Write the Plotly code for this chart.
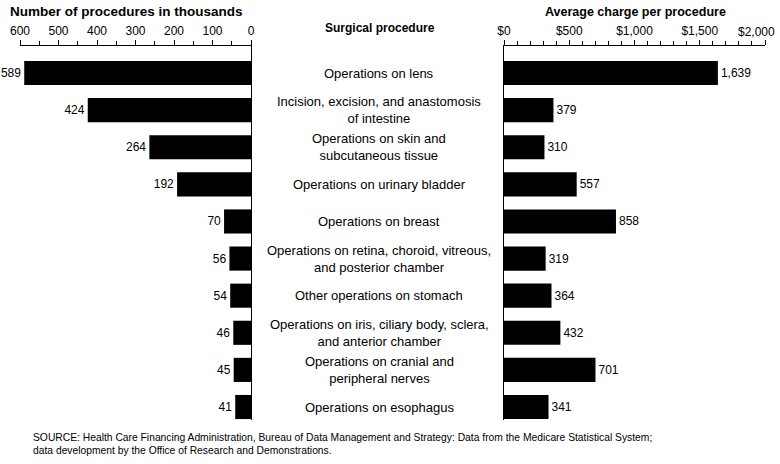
import plotly.graph_objects as go

procedures = [
    "Operations on lens",
    "Incision, excision, and anastomosis<br>of intestine",
    "Operations on skin and<br>subcutaneous tissue",
    "Operations on urinary bladder",
    "Operations on breast",
    "Operations on retina, choroid, vitreous,<br>and posterior chamber",
    "Other operations on stomach",
    "Operations on iris, ciliary body, sclera,<br>and anterior chamber",
    "Operations on cranial and<br>peripheral nerves",
    "Operations on esophagus",
]
counts_thousands = [589, 424, 264, 192, 70, 56, 54, 46, 45, 41]
avg_charge = [1639, 379, 310, 557, 858, 319, 364, 432, 701, 341]
count_ticks = [600, 500, 400, 300, 200, 100, 0]
charge_ticks = [0, 500, 1000, 1500, 2000]
charge_tick_labels = ["$0", "$500", "$1,000", "$1,500", "$2,000"]

FONT = "Liberation Sans, Arial, sans-serif"
W, H = 780, 464
rows = list(range(len(procedures)))

fig = go.Figure()
fig.add_trace(go.Bar(
    x=counts_thousands, y=rows, orientation="h", xaxis="x", yaxis="y",
    marker=dict(color="black", line=dict(width=0)), width=0.65,
    text=[str(v) for v in counts_thousands], textposition="outside",
    textfont=dict(family=FONT, size=12, color="black"), cliponaxis=False,
    hoverinfo="skip",
))
fig.add_trace(go.Bar(
    x=avg_charge, y=rows, orientation="h", xaxis="x2", yaxis="y2",
    marker=dict(color="black", line=dict(width=0)), width=0.65,
    text=[f"{v:,}" for v in avg_charge], textposition="outside",
    textfont=dict(family=FONT, size=12, color="black"), cliponaxis=False,
    hoverinfo="skip",
))

yrange = [9.35, -0.728]
ydom = [1 - 420 / H, 1 - 46 / H]

# last tick label is placed as an annotation so it stays inside the page edge
shown_charge_labels = charge_tick_labels[:-1] + [""]

fig.update_layout(
    width=W, height=H, margin=dict(l=0, r=0, t=0, b=0, autoexpand=False),
    paper_bgcolor="white", plot_bgcolor="white", showlegend=False,
    font=dict(family=FONT, color="black"),
    xaxis=dict(domain=[20 / W, 251 / W], range=[600, 0], side="top", anchor="y",
               tickvals=count_ticks, ticks="outside", ticklen=5, tickcolor="black",
               showline=True, linecolor="black", linewidth=1.2, showgrid=False,
               zeroline=False, tickfont=dict(size=12, family=FONT), automargin=False,
               ticklabeloverflow="allow",
               minor=dict(dtick=50, ticks="outside", ticklen=4, tickcolor="black")),
    yaxis=dict(domain=ydom, range=yrange, anchor="x", side="right", automargin=False,
               showline=True, linecolor="black", linewidth=1.2, showticklabels=False,
               ticks="", showgrid=False, zeroline=False),
    xaxis2=dict(domain=[504 / W, 765 / W], range=[0, 2000], side="top", anchor="y2",
                tickvals=charge_ticks, ticktext=shown_charge_labels, ticks="outside",
                ticklen=5, tickcolor="black", showline=True, linecolor="black",
                linewidth=1.2, showgrid=False, zeroline=False, automargin=False,
                ticklabeloverflow="allow",
                tickfont=dict(size=12, family=FONT),
                minor=dict(dtick=100, ticks="outside", ticklen=4, tickcolor="black")),
    yaxis2=dict(domain=ydom, range=yrange, anchor="x2", side="left", automargin=False,
                showline=True, linecolor="black", linewidth=1.2, showticklabels=False,
                ticks="", showgrid=False, zeroline=False),
)

fig.add_annotation(x=charge_ticks[-1], xref="x2", y=1 - 32 / H, yref="paper",
                   text=charge_tick_labels[-1], showarrow=False, xanchor="right",
                   xshift=12, yanchor="middle", font=dict(size=12, family=FONT))

for i, label in enumerate(procedures):
    fig.add_annotation(x=379 / W, xref="paper", y=i, yref="y", text=label,
                       showarrow=False, xanchor="center", yanchor="middle",
                       font=dict(size=13, family=FONT), align="center")

fig.add_annotation(x=126 / W, y=1 - 12 / H, xref="paper", yref="paper",
                   text="<b>Number of procedures in thousands</b>", showarrow=False,
                   xanchor="center", yanchor="middle", font=dict(size=13.5, family=FONT))
fig.add_annotation(x=380 / W, y=1 - 28 / H, xref="paper", yref="paper",
                   text="<b>Surgical procedure</b>", showarrow=False,
                   xanchor="center", yanchor="middle", font=dict(size=12, family=FONT))
fig.add_annotation(x=635 / W, y=1 - 12 / H, xref="paper", yref="paper",
                   text="<b>Average charge per procedure</b>", showarrow=False,
                   xanchor="center", yanchor="middle", font=dict(size=12.5, family=FONT))
fig.add_annotation(x=31 / W, y=1 - 444 / H, xref="paper", yref="paper",
                   text="SOURCE: Health Care Financing Administration, Bureau of Data Management and Strategy: Data from the Medicare Statistical System;<br>data development by the Office of Research and Demonstrations.",
                   showarrow=False, xanchor="left", yanchor="middle", align="left",
                   font=dict(size=10.3, family=FONT))

fig.write_html("out.html", config={"displayModeBar": False},
               post_script="document.body.style.margin='0';document.body.style.overflow='hidden';")
